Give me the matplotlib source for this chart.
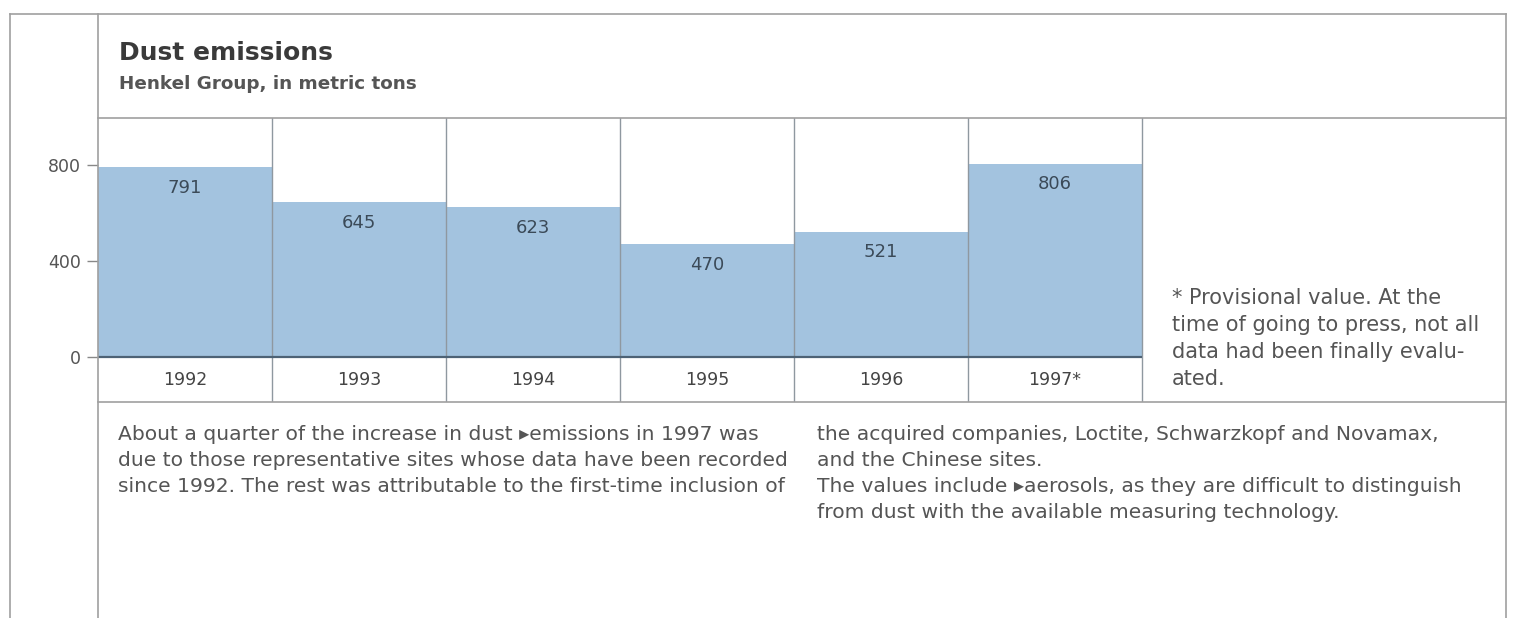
import matplotlib.pyplot as plt
from matplotlib.lines import Line2D

# data
years = ['1992', '1993', '1994', '1995', '1996', '1997*']
dust_tons = [791, 645, 623, 470, 521, 806]
y_ticks = [0, 400, 800]

title = 'Dust emissions'
subtitle = 'Henkel Group, in metric tons'
footnote = ['* Provisional value. At the',
            'time of going to press, not all',
            'data had been finally evalu-',
            'ated.']
text_left = ['About a quarter of the increase in dust \u25b8emissions in 1997 was',
             'due to those representative sites whose data have been recorded',
             'since 1992. The rest was attributable to the first-time inclusion of']
text_right = ['the acquired companies, Loctite, Schwarzkopf and Novamax,',
              'and the Chinese sites.',
              'The values include \u25b8aerosols, as they are difficult to distinguish',
              'from dust with the available measuring technology.']

W, H = 1516, 618
fig = plt.figure(figsize=(W / 100, H / 100), dpi=100)


def fx(px):
    return px / W


def fy(py):
    return 1 - py / H


line_c = '#a0a0a0'
text_c = '#555555'

# frame lines around the page
for xs, ys in [((10, 10), (14, 618)), ((98, 98), (14, 618)),
               ((1506, 1506), (14, 618)), ((10, 1506), (14, 14))]:
    fig.add_artist(Line2D([fx(xs[0]), fx(xs[1])], [fy(ys[0]), fy(ys[1])],
                          transform=fig.transFigure, color=line_c, lw=1.2))

# chart area
ax = fig.add_axes([fx(98), fy(402), fx(1506) - fx(98), fy(118) - fy(402)])
ax.set_xlim(0, (1506 - 98) / 174)
ax.set_ylim(-187.5, 995.8)

n = len(dust_tons)
ax.bar(range(n), dust_tons, width=1, align='edge',
       color='#a3c3df', edgecolor='none', zorder=1)
for i in range(1, n + 1):
    ax.axvline(i, color='#8f98a0', lw=1, zorder=2)
ax.hlines(0, 0, n, color='#4d6275', lw=1.6, zorder=3)

for i, (yr, v) in enumerate(zip(years, dust_tons)):
    ax.text(i + 0.5, v - 85, str(v), ha='center', va='center',
            fontsize=13, color='#3b4a58')
    ax.text(i + 0.5, -95, yr, ha='center', va='center',
            fontsize=12.5, color='#444444')

ax.set_yticks(y_ticks)
ax.set_xticks([])
ax.tick_params(axis='y', length=8, width=1, color='#888888',
               labelsize=12.5, labelcolor='#555555', pad=4)
for side in ['left', 'right']:
    ax.spines[side].set_visible(False)
for side in ['top', 'bottom']:
    ax.spines[side].set_color(line_c)
    ax.spines[side].set_linewidth(1.2)

# headings
fig.text(fx(119), fy(60), title, fontsize=18, fontweight='bold',
         color='#3a3a3a', va='baseline')
fig.text(fx(119), fy(89), subtitle, fontsize=13.2, fontweight='bold',
         color=text_c, va='baseline')

# footnote
for k, line in enumerate(footnote):
    fig.text(fx(1172), fy(298 + 27 * k), line, fontsize=15,
             color=text_c, va='center')

# body text
for k, line in enumerate(text_left):
    fig.text(fx(118), fy(434 + 26 * k), line, fontsize=14.6,
             color=text_c, va='center')
for k, line in enumerate(text_right):
    fig.text(fx(817), fy(434 + 26 * k), line, fontsize=14.6,
             color=text_c, va='center')

fig.savefig('out.png', dpi=100, facecolor='white')
